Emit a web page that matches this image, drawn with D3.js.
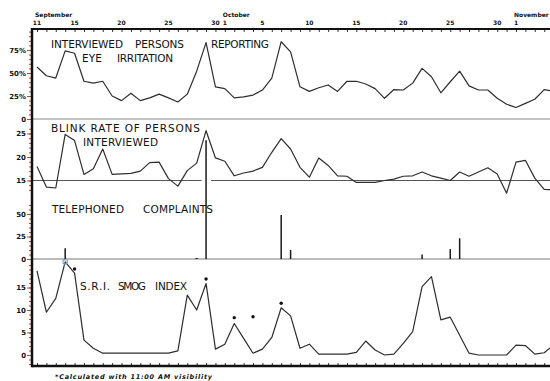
<!DOCTYPE html>
<html><head><meta charset="utf-8">
<script src="https://cdn.jsdelivr.net/npm/d3@7"></script>
<style>
body{margin:0;background:#fff;overflow:hidden}
text{font-family:"DejaVu Sans",sans-serif;fill:#111}
</style></head><body>
<svg id="chart" width="550" height="381"></svg>
<script>
// daily readings, Sep 11 .. Nov 5 (index 0 = Sep 11)
const eyeIrritation = [56.5,47,44.5,74,71.5,41,39,41,25,20, 28,20,23,27,23,18.5,27,52,83,35,
  33,23,24,26,31.5,44.5,84,73,35,30, 34,37,30,41,41,38,33,22.5,32,31.5, 39,55,46,28.5,40.5,52,36,31.5,31.5,22.5,16,
  12.5,17,21.5,32,30];
const blinkRate = [18,13.6,13.4,24.8,23.5,16.3,17.5,21.7,16.3,16.4, 16.5,17,18.8,18.9,15.4,13.8,17.1,18.7,25.6,19.8,
  19.1,16,16.6,17,17.8,21,23.9,21.7,17.8,15.7, 19.8,18.2,16,15.9,14.6,14.6,14.6,15,15.3,15.9, 16,16.8,16,15.5,15,16.8,15.9,16.8,17.7,16.4,12.3,
  18.9,19.3,15.5,13.1,13];
const smogIndex = [18.7,9.5,12.6,20.7,18.2,3.3,1.5,0.4,0.4,0.4, 0.4,0.4,0.4,0.4,0.4,0.9,13.3,10,15.9,1.3,
  2.4,7,3.7,0.4,1.3,3.9,10.5,8.7,1.5,2.4, 0.2,0.2,0.2,0.2,0.6,3.1,1.1,0,0.2,2.6, 5.2,15.2,17.4,7.8,8.4,4.4,0.4,0,0,0,0,
  2.2,2.1,0.2,0.5,2.2];
const complaintDays = [3,17,18,26,27,41,44,45];
const complaintValues = [12,1,132,49,10,5,11,23];
// smog values calculated with 11:00 AM visibility
const smogMarkDays = [4,18,21,23,26];
const smogMarkValues = [19.1,16.9,8.3,8.5,11.5];

const dayTicks = [0,4,9,14,19,20,24,29,34,39,44,49,51];
const dayTickLabels = ["11","15","20","25","30","1","5","10","15","20","25","30","1"];
const monthDays = [0,20,51];
const monthNames = ["September","October","November"];

const eyeTicks = [0,25,50,75], eyeTickLabels = ["0","25%","50%","75%"];
const blinkTicks = [15,20,25];
const telTicks = [0,25,50];
const smogTicks = [0,5,10,15];

const svg = d3.select('#chart');
const ink = '#2e2e2e';
const axisX = 32, topY = 29, bottomY = 366;

let x = d3.scaleLinear().domain([0, 51]).range([37, 516]);
let yEye = d3.scaleLinear().domain([0, 75]).range([119, 50]);
let yBlink = d3.scaleLinear().domain([15, 25]).range([180.5, 133.5]);
let yTel = d3.scaleLinear().domain([0, 50]).range([259, 214]);
let ySmog = d3.scaleLinear().domain([0, 15]).range([355, 287.5]);

// reference lines
svg.append('line').attr('x1', axisX).attr('x2', 550).attr('y1', yEye(0)).attr('y2', yEye(0))
  .attr('stroke', '#8a8a8a').attr('stroke-width', 1);
svg.append('line').attr('x1', axisX).attr('x2', 550).attr('y1', yTel(0)).attr('y2', yTel(0))
  .attr('stroke', '#777').attr('stroke-width', 1);
svg.append('line').attr('x1', axisX).attr('x2', x(18) - 4.5).attr('y1', yBlink(15)).attr('y2', yBlink(15))
  .attr('stroke', '#555').attr('stroke-width', 1);
svg.append('line').attr('x1', x(18) + 5).attr('x2', 550).attr('y1', yBlink(15)).attr('y2', yBlink(15))
  .attr('stroke', '#555').attr('stroke-width', 1);

// left axes: labels + minor ticks
function leftAxis(scale, values, labels, minor) {
  let g = svg.append('g').attr('transform', 'translate(' + axisX + ',0)');
  g.call(d3.axisLeft(scale).tickValues(minor).tickSize(3).tickFormat(''));
  g.append('g').call(d3.axisLeft(scale).tickValues(values).tickSize(5).tickPadding(1)
    .tickFormat((d, i) => labels[i]));
  g.selectAll('.domain').remove();
  g.selectAll('line').attr('stroke', '#b0502a').attr('stroke-width', 1);
  g.selectAll('text').attr('font-size', 7).attr('font-weight', 'bold').attr('fill', '#222')
    .attr('font-family', '"DejaVu Sans", sans-serif');
}
leftAxis(yEye, eyeTicks, eyeTickLabels, d3.range(5, 100, 5));
leftAxis(yBlink, blinkTicks, blinkTicks.map(String), d3.range(13, 27, 1));
leftAxis(yTel, telTicks, telTicks.map(String), d3.range(0, 65, 5));
leftAxis(ySmog, smogTicks, smogTicks.map(String), d3.range(-2, 21, 1));

// day axes
let days = d3.range(0, 56);
let topAxis = svg.append('g').attr('transform', 'translate(0,' + topY + ')')
  .call(d3.axisBottom(x).tickValues(days).tickSize(3).tickFormat(''));
let botAxis = svg.append('g').attr('transform', 'translate(0,' + bottomY + ')')
  .call(d3.axisTop(x).tickValues(days).tickSize(3).tickFormat(''));
[topAxis, botAxis].forEach(g => {
  g.selectAll('.domain').remove();
  g.selectAll('line').attr('stroke', '#333').attr('stroke-width', 1);
});

svg.append('line').attr('x1', axisX).attr('x2', 550).attr('y1', topY).attr('y2', topY)
  .attr('stroke', '#111').attr('stroke-width', 2);
svg.append('line').attr('x1', axisX).attr('x2', 550).attr('y1', bottomY).attr('y2', bottomY)
  .attr('stroke', '#111').attr('stroke-width', 2.5);
svg.append('line').attr('x1', axisX).attr('x2', axisX).attr('y1', topY - 1).attr('y2', bottomY + 1.2)
  .attr('stroke', '#111').attr('stroke-width', 2.5);

svg.selectAll('.daylbl').data(dayTicks).enter().append('text')
  .attr('x', d => x(d)).attr('y', 25).attr('text-anchor', 'middle')
  .attr('font-size', 6).attr('font-weight', 'bold')
  .text((d, i) => dayTickLabels[i]);
svg.selectAll('.month').data(monthDays).enter().append('text')
  .attr('x', d => x(d) - 2).attr('y', 17)
  .attr('font-size', 6).attr('font-weight', 'bold')
  .text((d, i) => monthNames[i]);

// series
function series(values, y) {
  svg.append('path').datum(values)
    .attr('d', d3.line().x((d, i) => x(i)).y(d => y(d)))
    .attr('fill', 'none').attr('stroke', ink).attr('stroke-width', 1.2)
    .attr('stroke-linejoin', 'round');
}
series(eyeIrritation, yEye);
series(blinkRate, yBlink);
series(smogIndex, ySmog);

svg.selectAll('.bar').data(complaintDays).enter().append('line')
  .attr('x1', d => x(d)).attr('x2', d => x(d))
  .attr('y1', yTel(0)).attr('y2', (d, i) => yTel(complaintValues[i]))
  .attr('stroke', '#1a1a1a').attr('stroke-width', (d, i) => complaintValues[i] < 2 ? 2.5 : 1.5);

svg.selectAll('.mark').data(smogMarkDays).enter().append('circle')
  .attr('cx', d => x(d)).attr('cy', (d, i) => ySmog(smogMarkValues[i])).attr('r', 1.7)
  .attr('fill', '#111');
svg.append('circle').attr('cx', x(3)).attr('cy', ySmog(smogIndex[3])).attr('r', 2.3)
  .attr('fill', 'none').attr('stroke', '#7fa7c0').attr('stroke-width', 1.2);

// panel titles
function title(str, x0, x1, yc) {
  svg.append('text').attr('x', x0).attr('y', yc + 4).attr('font-size', 10.5)
    .attr('textLength', x1 - x0).attr('lengthAdjust', 'spacing').text(str);
}
title('INTERVIEWED', 51, 123, 44.3);
title('PERSONS', 135, 184, 44.3);
title('REPORTING', 211, 269, 44.3);
title('EYE', 82, 102, 58.3);
title('IRRITATION', 117, 173, 58.3);
title('BLINK RATE OF PERSONS', 51, 200, 128.3);
title('INTERVIEWED', 83, 158, 142.3);
title('TELEPHONED', 52, 124, 209.3);
title('COMPLAINTS', 143, 213, 209.3);
title('S.R.I.', 80, 110, 286);
title('SMOG', 118, 146, 286);
title('INDEX', 155, 187, 286);

svg.append('text').attr('x', 55).attr('y', 379).attr('font-size', 6.5)
  .attr('font-style', 'italic').attr('font-weight', 'bold')
  .attr('textLength', 157).attr('lengthAdjust', 'spacing')
  .text('*Calculated  with  11:00 AM  visibility');
</script>
</body></html>
